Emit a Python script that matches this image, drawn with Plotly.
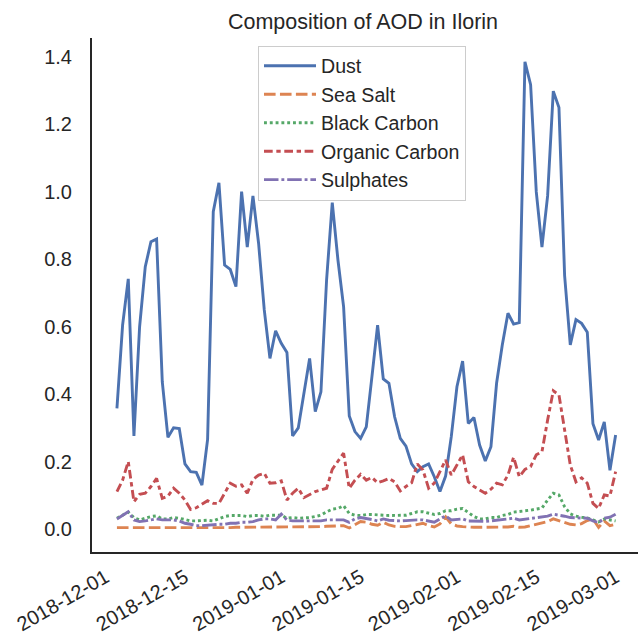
import pandas as pd
import plotly.graph_objects as go

START_DATE = "2018-12-03"
N_DAYS = 89

dust = [0.358, 0.605, 0.742, 0.276, 0.600, 0.778, 0.852, 0.860, 0.437, 0.272,
        0.300, 0.298, 0.193, 0.170, 0.168, 0.130, 0.266, 0.941, 1.027, 0.783,
        0.770, 0.719, 1.001, 0.836, 0.988, 0.847, 0.650, 0.506, 0.588, 0.551,
        0.524, 0.276, 0.300, 0.400, 0.506, 0.348, 0.407, 0.740, 0.968, 0.798,
        0.659, 0.335, 0.289, 0.269, 0.303, 0.452, 0.605, 0.445, 0.432, 0.333,
        0.269, 0.246, 0.193, 0.170, 0.185, 0.193, 0.155, 0.111, 0.157, 0.274,
        0.422, 0.498, 0.313, 0.331, 0.249, 0.202, 0.244, 0.433, 0.546, 0.640,
        0.608, 0.612, 1.386, 1.318, 1.000, 0.836, 0.988, 1.299, 1.250, 0.752,
        0.546, 0.621, 0.610, 0.584, 0.312, 0.264, 0.318, 0.174, 0.279]

sea_salt = [0.004, 0.004, 0.003, 0.003, 0.003, 0.004, 0.004, 0.004, 0.003, 0.003,
            0.004, 0.004, 0.003, 0.002, 0.002, 0.002, 0.003, 0.003, 0.003, 0.003,
            0.004, 0.005, 0.005, 0.005, 0.005, 0.006, 0.006, 0.006, 0.006, 0.006,
            0.006, 0.006, 0.006, 0.006, 0.007, 0.007, 0.007, 0.008, 0.009, 0.010,
            0.010, 0.003, 0.012, 0.022, 0.020, 0.014, 0.011, 0.020, 0.012, 0.008,
            0.007, 0.007, 0.010, 0.014, 0.017, 0.010, 0.006, 0.015, 0.036, 0.015,
            0.009, 0.007, 0.005, 0.005, 0.005, 0.005, 0.005, 0.005, 0.005, 0.006,
            0.008, 0.005, 0.006, 0.010, 0.015, 0.020, 0.022, 0.030, 0.025, 0.020,
            0.014, 0.012, 0.016, 0.025, 0.030, 0.005, 0.024, 0.010, 0.014]

black_carbon = [0.032, 0.041, 0.050, 0.034, 0.027, 0.032, 0.037, 0.039, 0.030, 0.030,
                0.034, 0.032, 0.027, 0.024, 0.024, 0.026, 0.026, 0.024, 0.030, 0.037,
                0.040, 0.040, 0.040, 0.037, 0.040, 0.040, 0.038, 0.041, 0.041, 0.041,
                0.032, 0.034, 0.032, 0.032, 0.034, 0.037, 0.041, 0.051, 0.059, 0.061,
                0.069, 0.046, 0.041, 0.040, 0.043, 0.043, 0.043, 0.041, 0.040, 0.040,
                0.040, 0.041, 0.046, 0.051, 0.051, 0.046, 0.043, 0.046, 0.054, 0.054,
                0.059, 0.061, 0.050, 0.037, 0.030, 0.030, 0.034, 0.034, 0.040, 0.043,
                0.050, 0.051, 0.054, 0.056, 0.059, 0.062, 0.086, 0.106, 0.101, 0.066,
                0.045, 0.038, 0.035, 0.033, 0.027, 0.021, 0.030, 0.026, 0.024]

organic_carbon = [0.111, 0.145, 0.200, 0.081, 0.103, 0.106, 0.126, 0.150, 0.091, 0.098,
                  0.121, 0.106, 0.086, 0.058, 0.063, 0.073, 0.084, 0.076, 0.076, 0.106,
                  0.136, 0.127, 0.131, 0.106, 0.147, 0.160, 0.165, 0.136, 0.137, 0.143,
                  0.086, 0.106, 0.121, 0.093, 0.101, 0.111, 0.116, 0.121, 0.177, 0.200,
                  0.225, 0.121, 0.145, 0.162, 0.145, 0.153, 0.137, 0.143, 0.150, 0.140,
                  0.113, 0.126, 0.137, 0.193, 0.175, 0.121, 0.136, 0.170, 0.205, 0.160,
                  0.190, 0.220, 0.140, 0.126, 0.116, 0.106, 0.118, 0.136, 0.131, 0.160,
                  0.213, 0.155, 0.177, 0.185, 0.220, 0.229, 0.323, 0.410, 0.398, 0.294,
                  0.190, 0.140, 0.152, 0.136, 0.076, 0.061, 0.101, 0.098, 0.170]

sulphates = [0.030, 0.041, 0.051, 0.027, 0.022, 0.024, 0.027, 0.030, 0.027, 0.027,
             0.027, 0.024, 0.017, 0.014, 0.010, 0.010, 0.012, 0.014, 0.014, 0.014,
             0.017, 0.017, 0.020, 0.020, 0.022, 0.027, 0.030, 0.030, 0.027, 0.044,
             0.027, 0.024, 0.024, 0.022, 0.022, 0.022, 0.024, 0.027, 0.027, 0.027,
             0.027, 0.020, 0.030, 0.034, 0.032, 0.028, 0.024, 0.030, 0.026, 0.024,
             0.024, 0.025, 0.027, 0.027, 0.027, 0.024, 0.020, 0.030, 0.039, 0.027,
             0.029, 0.030, 0.024, 0.023, 0.022, 0.023, 0.024, 0.026, 0.027, 0.031,
             0.032, 0.027, 0.029, 0.030, 0.032, 0.034, 0.038, 0.044, 0.042, 0.038,
             0.034, 0.033, 0.033, 0.032, 0.024, 0.019, 0.032, 0.035, 0.044]

series_names = ["Dust", "Sea Salt", "Black Carbon", "Organic Carbon", "Sulphates"]
series_values = [dust, sea_salt, black_carbon, organic_carbon, sulphates]

x_tick_labels = ["2018-12-01", "2018-12-15", "2019-01-01", "2019-01-15",
                 "2019-02-01", "2019-02-15", "2019-03-01"]
y_tick_values = [0.0, 0.2, 0.4, 0.6, 0.8, 1.0, 1.2, 1.4]

dates = pd.date_range(START_DATE, periods=N_DAYS, freq="D")

colors = ["#4C72B0", "#DD8452", "#55A868", "#C44E52", "#8172B3"]
lw = 2.9
dashes = [
    "solid",
    f"{4*lw}px,{1.5*lw}px",
    f"{1*lw}px,{1*lw}px",
    f"{3*lw}px,{1.25*lw}px,{1.5*lw}px,{1.25*lw}px",
    f"{5*lw}px,{1*lw}px,{1*lw}px,{1*lw}px",
]

fig = go.Figure()
for name, vals, c, d in zip(series_names, series_values, colors, dashes):
    fig.add_trace(go.Scatter(x=dates, y=vals, mode="lines", name=name,
                             line=dict(color=c, width=lw, dash=d)))

x_lo = dates[0] - pd.Timedelta(days=4.4)
x_hi = dates[-1] + pd.Timedelta(days=3.95)

txt = "#262626"
FONT = "Liberation Sans, Arial, sans-serif"
FS = 20
fig.update_layout(
    width=638, height=638,
    margin=dict(l=92, r=0, t=38, b=86, autoexpand=False),
    paper_bgcolor="white", plot_bgcolor="white",
    font=dict(family=FONT, size=FS, color=txt),
    title=dict(text="Composition of AOD in Ilorin", x=363/638, xanchor="center",
               y=1 - 21/638, yanchor="middle", yref="container",
               font=dict(size=21.5, color=txt)),
    showlegend=True,
    legend=dict(x=(258-92)/546, y=(552-45.5)/514, xanchor="left", yanchor="top",
                bgcolor="rgba(255,255,255,0.8)", bordercolor="#cccccc", borderwidth=1,
                font=dict(size=19.6, color=txt), itemwidth=52),
)
fig.update_xaxes(range=[x_lo, x_hi], showgrid=False, zeroline=False,
                 showline=True, linecolor="#262626", linewidth=2,
                 tickvals=x_tick_labels, ticktext=x_tick_labels, tickangle=-30,
                 ticks="", ticklabelstandoff=4, automargin=False,
                 tickfont=dict(size=FS, color=txt))
fig.update_yaxes(range=[-0.0682, 1.4565], showgrid=False, zeroline=False,
                 showline=True, linecolor="#262626", linewidth=2,
                 tickvals=y_tick_values, tickformat=".1f", ticks="",
                 ticklabelstandoff=14, automargin=False,
                 tickfont=dict(size=FS, color=txt))

fig.write_html("out.html", config={"displayModeBar": False},
               post_script="document.body.style.margin='0';document.body.style.overflow='hidden';")
